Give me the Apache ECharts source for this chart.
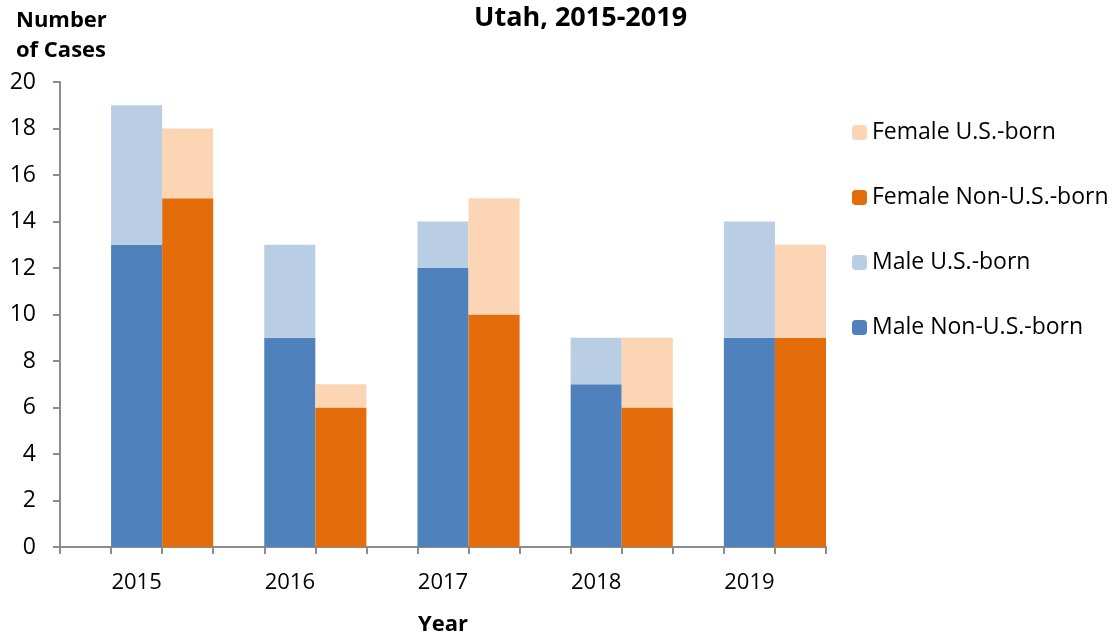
<!DOCTYPE html>
<html>
<head>
<meta charset="utf-8">
<script src="https://cdn.jsdelivr.net/npm/echarts@6/dist/echarts.min.js"></script>
<style>
  html, body { margin: 0; padding: 0; background: #fff; }
  #chart { width: 1120px; height: 637px; }
</style>
</head>
<body>
<div id="chart"></div>
<script>
const years = ['2015', '2016', '2017', '2018', '2019'];
const maleNonUS = [13, 9, 12, 7, 9];
const maleUS = [6, 4, 2, 2, 5];
const femaleNonUS = [15, 6, 10, 6, 9];
const femaleUS = [3, 1, 5, 3, 4];

// each year takes three slots: empty gap, male bar, female bar
const slots = [];
years.forEach(y => slots.push('', y, ''));
const spread = (vals, pos) => {
  const out = [];
  vals.forEach(v => { for (let i = 0; i < 3; i++) out.push(i === pos ? v : null); });
  return out;
};

const font = 'Open Sans';
const axisGray = '#8c8c8c';

const chart = echarts.init(document.getElementById('chart'));
chart.setOption({
  animation: false,
  textStyle: { fontFamily: font },
  title: [
    { text: 'Utah, 2015-2019', left: 469, top: 0,
      textStyle: { fontFamily: font, fontWeight: 'bold', fontSize: 27, color: '#000' } },
    { text: 'Number\nof Cases', left: 11, top: 1,
      textStyle: { fontFamily: font, fontWeight: 'bold', fontSize: 22, lineHeight: 30, color: '#000' } }
  ],
  legend: {
    orient: 'vertical', left: 852, top: 121, padding: 0,
    itemWidth: 15, itemHeight: 15, itemGap: 42, itemTextGap: 7,
    data: ['Female U.S.-born', 'Female Non-U.S.-born', 'Male U.S.-born', 'Male Non-U.S.-born'],
    textStyle: { fontFamily: font, fontSize: 23, color: '#000' }
  },
  grid: { left: 60, right: 294, top: 82, bottom: 90, outerBoundsMode: 'none' },
  xAxis: {
    type: 'category', data: slots,
    name: 'Year', nameLocation: 'middle', nameGap: 67,
    nameTextStyle: { fontFamily: font, fontWeight: 'bold', fontSize: 22, color: '#000' },
    axisLine: { lineStyle: { color: axisGray, width: 2 } },
    axisTick: { show: true, interval: 0, length: 7, lineStyle: { color: axisGray, width: 2 } },
    axisLabel: { interval: 0, fontFamily: font, fontSize: 22, color: '#000', margin: 25 }
  },
  yAxis: {
    type: 'value', min: 0, max: 20, interval: 2,
    axisLine: { show: true, lineStyle: { color: axisGray, width: 2 } },
    axisTick: { show: true, length: 7, lineStyle: { color: axisGray, width: 2 } },
    axisLabel: { fontFamily: font, fontSize: 23, color: '#000', margin: 24 },
    splitLine: { show: false }
  },
  series: [
    { name: 'Male Non-U.S.-born', type: 'bar', stack: 'all', barCategoryGap: 0,
      itemStyle: { color: '#4f81bd' }, data: spread(maleNonUS, 1) },
    { name: 'Female Non-U.S.-born', type: 'bar', stack: 'all', barCategoryGap: 0,
      itemStyle: { color: '#e46c0a' }, data: spread(femaleNonUS, 2) },
    { name: 'Male U.S.-born', type: 'bar', stack: 'all', barCategoryGap: 0,
      itemStyle: { color: '#b9cde5' }, data: spread(maleUS, 1) },
    { name: 'Female U.S.-born', type: 'bar', stack: 'all', barCategoryGap: 0,
      itemStyle: { color: '#fcd5b5' }, data: spread(femaleUS, 2) }
  ]
});
window.addEventListener('resize', () => chart.resize());
</script>
</body>
</html>
